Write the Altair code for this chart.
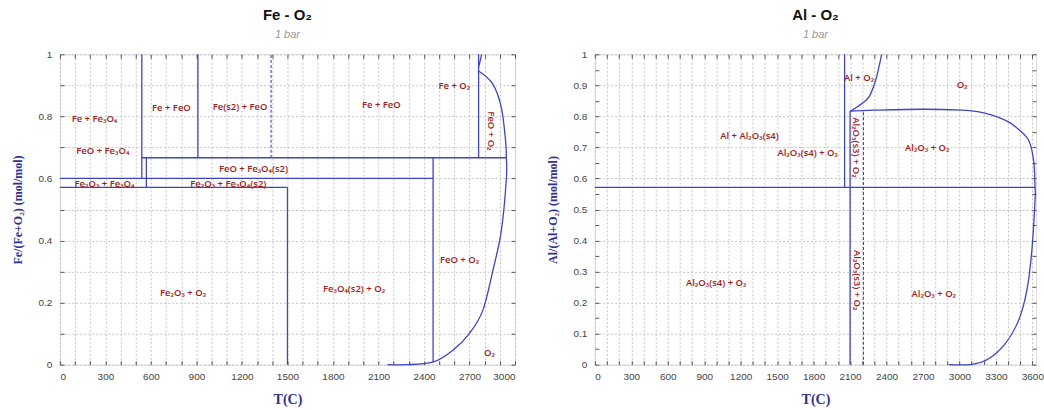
import altair as alt
import pandas as pd

# ---------------- Fe - O2 panel ----------------
fe_h_y = [0.6, 0.5714, 0.6667]
fe_h_x1 = [0, 0, 540]
fe_h_x2 = [2460, 1500, 2943]

fe_v_x = [540, 570, 910, 1500, 2460, 2760]
fe_v_y1 = [0.6, 0.5714, 0.6667, 0.0, 0.008, 0.6667]
fe_v_y2 = [1.0, 0.6667, 1.0, 0.5714, 0.6667, 1.0]

fe_d_x = [1392]
fe_d_y1 = [0.6667]
fe_d_y2 = [1.0]

fe_gas_T = [2760, 2854, 2910, 2938, 2943, 2943, 2910, 2854, 2788, 2700, 2589, 2457, 2281, 2159]
fe_gas_X = [0.946, 0.904, 0.828, 0.721, 0.668, 0.598, 0.432, 0.303, 0.175, 0.101, 0.046, 0.008, 0.0, 0.0]

fe_liq_T = [2760, 2771, 2780]
fe_liq_X = [0.96, 0.98, 1.0]

fe_lab_text = ["Fe + Fe₃O₄", "FeO + Fe₃O₄", "Fe + FeO", "Fe(s2) + FeO", "FeO + Fe₃O₄(s2)",
               "Fe₂O₃ + Fe₃O₄", "Fe₂O₃ + Fe₃O₄(s2)", "Fe + FeO", "Fe + O₂", "FeO + O₂",
               "FeO + O₂", "Fe₂O₃ + O₂", "Fe₃O₄(s2) + O₂", "O₂"]
fe_lab_T = [228, 283, 735, 1188, 1276, 294, 1110, 2119, 2600, 2843, 2634, 812, 1939, 2832]
fe_lab_X = [0.793, 0.689, 0.828, 0.831, 0.632, 0.582, 0.582, 0.837, 0.898, 0.753, 0.338, 0.230, 0.244, 0.037]
fe_lab_A = [0, 0, 0, 0, 0, 0, 0, 0, 0, 90, 0, 0, 0, 0]

# ---------------- Al - O2 panel ----------------
al_h_y = [0.5714]
al_h_x1 = [0]
al_h_x2 = [3622]

al_v_x = [2055, 2100]
al_v_y1 = [0.5714, 0.0]
al_v_y2 = [1.0, 0.817]

al_d_x = [2210]
al_d_y1 = [0.0]
al_d_y2 = [0.82]

al_gas_T = [2100, 2300, 2700, 3020, 3150, 3268, 3380, 3459, 3568, 3610, 3622, 3622, 3596, 3555,
            3487, 3377, 3240, 3104, 2912]
al_gas_X = [0.817, 0.820, 0.823, 0.820, 0.815, 0.804, 0.787, 0.767, 0.724, 0.659, 0.572, 0.53,
            0.369, 0.240, 0.143, 0.068, 0.019, 0.001, 0.0]

al_liq_T = [2100, 2161, 2256, 2311, 2338, 2360]
al_liq_X = [0.817, 0.831, 0.863, 0.917, 0.960, 1.0]

al_lab_text = ["Al + O₂", "O₂", "Al + Al₂O₃(s4)", "Al₂O₃(s4) + O₂", "Al₂O₃(s3) + O₂",
               "Al₂O₃ + O₂", "Al₂O₃(s4) + O₂", "Al₂O₃(s3) + O₂", "Al₂O₃ + O₂"]
al_lab_T = [2174, 3022, 1272, 1751, 2146, 2735, 998, 2161, 2789]
al_lab_X = [0.925, 0.90, 0.737, 0.681, 0.70, 0.697, 0.263, 0.272, 0.229]
al_lab_A = [0, 0, 0, 0, 90, 0, 0, 90, 0]

LINE = "#3d45c2"
TEXT = "#9e1b1b"
AXT = "#2e3192"
SANS = "Liberation Sans"


def panel(title, ytitle, xmax, xtick_max, width, ylabel_step, ytick_step,
          h_y, h_x1, h_x2, v_x, v_y1, v_y2, d_x, d_y1, d_y2,
          gas_T, gas_X, liq_T, liq_X, lab_text, lab_T, lab_X, lab_A):
    xs = alt.Scale(domain=[0, xmax], nice=False, zero=False)
    ys = alt.Scale(domain=[0, 1], nice=False)
    xvals = list(range(0, xtick_max + 1, 100))
    yvals = [round(i * 0.1, 1) for i in range(11)]
    ytv = [round(i * ytick_step, 3) for i in range(int(round(1 / ytick_step)) + 1)]
    if ylabel_step == 0.2:
        ylexpr = "round(datum.value*10) % 2 === 0 ? datum.label : ''"
    else:
        ylexpr = "datum.label"

    x_main = alt.Axis(values=xvals, format="d",
                      labelExpr="datum.value % 300 === 0 ? datum.label : ''",
                      grid=True, gridDash=[2, 2], gridColor="#c4c4c4", ticks=False, domain=False,
                      labelFont=SANS, labelFontSize=10, labelColor="#444", labelPadding=7,
                      title="T(C)", titleFont="Liberation Serif", titleFontSize=14,
                      titleFontWeight="bold", titleColor=AXT, titlePadding=11)
    y_main = alt.Axis(values=yvals, labelExpr=ylexpr, format="~g",
                      grid=True, gridDash=[2, 2], gridColor="#c4c4c4", ticks=False, domain=False,
                      labelFont=SANS, labelFontSize=10, labelColor="#444", labelPadding=8,
                      title=ytitle, titleFont="Liberation Serif", titleFontSize=12,
                      titleFontWeight="bold", titleColor=AXT, titlePadding=14)
    x_bt = alt.Axis(orient="bottom", values=xvals, labels=False, grid=False, domain=False,
                    tickSize=4, offset=-4, tickColor="#555", title=None)
    y_lt = alt.Axis(orient="left", values=ytv, labels=False, grid=False, domain=False,
                    tickSize=4, offset=-4, tickColor="#555", title=None)
    x_tp = alt.Axis(orient="top", values=xvals, labels=False, grid=False, domain=False,
                    tickSize=4, offset=-4, tickColor="#555", title=None)
    y_rt = alt.Axis(orient="right", values=ytv, labels=False, grid=False, domain=False,
                    tickSize=4, offset=-4, tickColor="#555", title=None)

    hdf = pd.DataFrame({"y": h_y, "x": h_x1, "x2": h_x2})
    vdf = pd.DataFrame({"x": v_x, "y": v_y1, "y2": v_y2})
    ddf = pd.DataFrame({"x": d_x, "y": d_y1, "y2": d_y2})
    cdf = pd.concat([
        pd.DataFrame({"T": gas_T, "X": gas_X, "curve": "gas", "i": range(len(gas_T))}),
        pd.DataFrame({"T": liq_T, "X": liq_X, "curve": "liq", "i": range(len(liq_T))}),
    ])
    ldf = pd.DataFrame({"t": lab_text, "T": lab_T, "X": lab_X, "a": lab_A})

    h = alt.Chart(hdf).mark_rule(color=LINE, strokeWidth=1.3).encode(
        x=alt.X("x:Q", scale=xs, axis=x_main), x2="x2:Q",
        y=alt.Y("y:Q", scale=ys, axis=y_main))
    v = alt.Chart(vdf).mark_rule(color=LINE, strokeWidth=1.3).encode(
        x=alt.X("x:Q", scale=xs, axis=x_bt),
        y=alt.Y("y:Q", scale=ys, axis=y_lt), y2="y2:Q")
    d = alt.Chart(ddf).mark_rule(color=LINE, strokeWidth=1.1, strokeDash=[3, 2]).encode(
        x=alt.X("x:Q", scale=xs, axis=x_tp),
        y=alt.Y("y:Q", scale=ys, axis=y_rt), y2="y2:Q")
    c = alt.Chart(cdf).mark_line(color=LINE, strokeWidth=1.3, interpolate="cardinal").encode(
        x=alt.X("T:Q", scale=xs, axis=None),
        y=alt.Y("X:Q", scale=ys, axis=None),
        detail="curve:N", order="i:Q")
    t0 = alt.Chart(ldf[ldf.a == 0]).mark_text(color=TEXT, font="Open Sans", fontSize=9.5,
                                              fontWeight=600).encode(
        x=alt.X("T:Q", scale=xs, axis=None), y=alt.Y("X:Q", scale=ys, axis=None), text="t:N")
    t90 = alt.Chart(ldf[ldf.a == 90]).mark_text(color=TEXT, font="Open Sans", fontSize=9.5,
                                                fontWeight=600, angle=90).encode(
        x=alt.X("T:Q", scale=xs, axis=None), y=alt.Y("X:Q", scale=ys, axis=None), text="t:N")

    return alt.layer(h, v, d, c, t0, t90).resolve_axis(x="independent", y="independent").properties(
        width=width, height=311,
        title=alt.TitleParams(text=title, subtitle="1 bar", font=SANS, fontSize=15,
                              fontWeight="bold", color="#111", subtitleFont=SANS,
                              subtitleFontSize=11, subtitleFontStyle="italic",
                              subtitleColor="#999", anchor="middle", frame="group",
                              offset=9, subtitlePadding=6))


left = panel("Fe - O₂", "Fe/(Fe+O₂) (mol/mol)", 3000, 3000, 456, 0.2, 0.1,
             fe_h_y, fe_h_x1, fe_h_x2, fe_v_x, fe_v_y1, fe_v_y2, fe_d_x, fe_d_y1, fe_d_y2,
             fe_gas_T, fe_gas_X, fe_liq_T, fe_liq_X, fe_lab_text, fe_lab_T, fe_lab_X, fe_lab_A)
right = panel("Al - O₂", "Al/(Al+O₂) (mol/mol)", 3630, 3600, 442, 0.1, 0.05,
              al_h_y, al_h_x1, al_h_x2, al_v_x, al_v_y1, al_v_y2, al_d_x, al_d_y1, al_d_y2,
              al_gas_T, al_gas_X, al_liq_T, al_liq_X, al_lab_text, al_lab_T, al_lab_X, al_lab_A)

chart = alt.hconcat(left, right, spacing=80, bounds="flush").properties(
    padding={"left": 10, "top": 7, "right": 0, "bottom": 0}
).configure_view(stroke="#555", strokeWidth=1).configure(background="white")

chart.save("out.html", embed_options={"renderer": "svg", "actions": False})
